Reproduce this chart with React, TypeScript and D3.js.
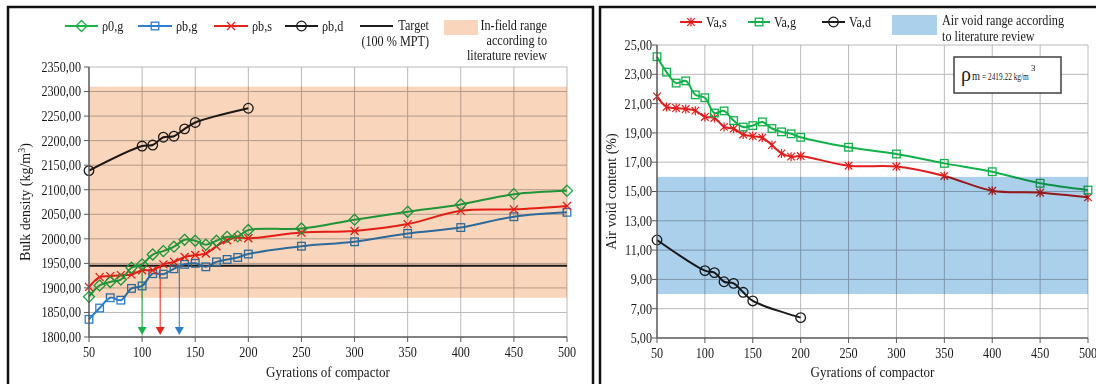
import React from 'react';
import * as d3 from 'd3';

// ---- Bulk density chart data (kg/m3) ----
const gyrations = [50, 60, 70, 80, 90, 100, 110, 120, 130, 140, 150, 160, 170, 180, 190, 200, 250, 300, 350, 400, 450, 500];
const rho0g = [1882, 1905, 1912, 1917, 1941, 1948, 1968, 1975, 1984, 1998, 1996, 1988, 1996, 2004, 2005, 2018, 2021, 2039, 2055, 2070, 2091, 2098];
const rhobg = [1836, 1859, 1880, 1875, 1899, 1904, 1929, 1928, 1939, 1948, 1950, 1943, 1953, 1958, 1962, 1969, 1985, 1994, 2011, 2023, 2045, 2054];
const rhobs = [1902, 1922, 1924, 1926, 1927, 1936, 1936, 1948, 1953, 1963, 1967, 1970, 1985, 1997, 2003, 2001, 2013, 2016, 2030, 2057, 2060, 2067];
const gyrationsDry = [50, 100, 110, 120, 130, 140, 150, 200];
const rhobd = [2139, 2189, 2191, 2207, 2209, 2224, 2237, 2266];
const targetDensity = 1945;
const infieldRange = [1880, 2310];
const arrowGyrations = [100, 117, 135];
const densityTicks = [1800, 1850, 1900, 1950, 2000, 2050, 2100, 2150, 2200, 2250, 2300, 2350];
const gyrationTicks = [50, 100, 150, 200, 250, 300, 350, 400, 450, 500];

// ---- Air void chart data (%) ----
const vas = [21.49, 20.77, 20.7, 20.63, 20.52, 20.09, 20.02, 19.41, 19.28, 18.89, 18.78, 18.67, 18.17, 17.6, 17.38, 17.42, 16.76, 16.7, 16.06, 15.05, 14.92, 14.6];
const vag = [24.2, 23.15, 22.4, 22.55, 21.6, 21.4, 20.36, 20.5, 19.84, 19.4, 19.5, 19.75, 19.3, 19.07, 18.94, 18.7, 18.02, 17.56, 16.92, 16.35, 15.56, 15.1];
const vad = [11.69, 9.6, 9.46, 8.84, 8.73, 8.12, 7.53, 6.39];
const voidRange = [8, 16];
const voidTicks = [5, 7, 9, 11, 13, 15, 17, 19, 21, 23, 25];
const rhoM = '2419.22';

const GREEN = '#1fb24a';
const BLUE = '#2e7fd0';
const RED = '#e8231c';
const DARK = '#1c1c1c';
const RED_R = '#e21d1d';
const GREEN_R = '#12b24b';
const ORANGE = '#f9d5bc';
const LIGHTBLUE = '#abd0ec';
const GRID = '#b8b8b8';
const AXIS = '#595959';
const SX = 0.87;
const FONT = '"Liberation Serif", "Times New Roman", serif';

const fmt = (v: number) => d3.format('.2f')(v).replace('.', ',');

type TxtProps = { x: number; y: number; size?: number; anchor?: string; sx?: number; children: React.ReactNode };
const Txt = ({ x, y, size = 14, anchor = 'start', sx = SX, children }: TxtProps) => (
  <text transform={`translate(${x},${y}) scale(${sx},1)`} fontSize={size} textAnchor={anchor as any} dy="0.35em" fill="#1a1a1a">
    {children}
  </text>
);

type MProps = { x: number; y: number; color: string };
const Diamond = ({ x, y, color }: MProps) => (
  <path d={`M${x},${y - 5.5}L${x + 5.5},${y}L${x},${y + 5.5}L${x - 5.5},${y}Z`} fill="none" stroke={color} strokeWidth={1.3} />
);
const Square = ({ x, y, color }: MProps) => (
  <rect x={x - 3.8} y={y - 3.8} width={7.6} height={7.6} fill="none" stroke={color} strokeWidth={1.3} />
);
const Cross = ({ x, y, color }: MProps) => (
  <path d={`M${x - 4},${y - 4}L${x + 4},${y + 4}M${x - 4},${y + 4}L${x + 4},${y - 4}`} stroke={color} strokeWidth={1.3} />
);
const Star = ({ x, y, color }: MProps) => (
  <path d={`M${x - 3.8},${y - 3.8}L${x + 3.8},${y + 3.8}M${x - 3.8},${y + 3.8}L${x + 3.8},${y - 3.8}M${x},${y - 4.5}L${x},${y + 4.5}`} stroke={color} strokeWidth={1.2} />
);
const Circle = ({ x, y, color }: MProps) => (
  <circle cx={x} cy={y} r={4.8} fill="none" stroke={color} strokeWidth={1.3} />
);

function Series({ xs, ys, xScale, yScale, color, Marker, width = 2 }: any) {
  const pts: [number, number][] = xs.map((g: number, i: number) => [xScale(g), yScale(ys[i])]);
  const line = d3.line().curve(d3.curveCatmullRom.alpha(0.5));
  return (
    <g>
      <path d={line(pts) || ''} fill="none" stroke={color} strokeWidth={width} />
      {pts.map(([px, py], i) => (
        <Marker key={i} x={px} y={py} color={color} />
      ))}
    </g>
  );
}

function LegendItem({ x1, x2, y, color, Marker, label }: any) {
  return (
    <g>
      <line x1={x1} x2={x2} y1={y} y2={y} stroke={color} strokeWidth={2} />
      {Marker && <Marker x={(x1 + x2) / 2} y={y} color={color} />}
      <Txt x={x2 + 4} y={y}>{label}</Txt>
    </g>
  );
}

function DensityChart() {
  const x = d3.scaleLinear().domain([50, 500]).range([89, 567]);
  const y = d3.scaleLinear().domain([1800, 2350]).range([337, 67]);
  const [x0, x1] = x.range();
  const yBottom = y(1800);
  const yTarget = y(targetDensity);
  const arrowColors = [GREEN, RED, BLUE];
  return (
    <g>
      {/* grid */}
      {densityTicks.slice(1).map((t) => (
        <line key={t} x1={x0} x2={x1} y1={y(t)} y2={y(t)} stroke={GRID} strokeWidth={1} />
      ))}
      {gyrationTicks.slice(1).map((t) => (
        <line key={t} x1={x(t)} x2={x(t)} y1={y(2350)} y2={yBottom} stroke={GRID} strokeWidth={1} />
      ))}
      {/* target */}
      <line x1={x0} x2={x1} y1={yTarget} y2={yTarget} stroke={DARK} strokeWidth={2} />
      {/* arrows marking where each series reaches the target */}
      {arrowGyrations.map((g, i) => (
        <g key={g}>
          <line x1={x(g)} x2={x(g)} y1={yTarget} y2={yBottom - 9} stroke={arrowColors[i]} strokeWidth={1} />
          <path d={`M${x(g) - 4.5},${yBottom - 10}L${x(g) + 4.5},${yBottom - 10}L${x(g)},${yBottom - 2}Z`} fill={arrowColors[i]} />
        </g>
      ))}
      <Series xs={gyrationsDry} ys={rhobd} xScale={x} yScale={y} color={DARK} Marker={Circle} />
      <Series xs={gyrations} ys={rhobg} xScale={x} yScale={y} color={BLUE} Marker={Square} />
      <Series xs={gyrations} ys={rhobs} xScale={x} yScale={y} color={RED} Marker={Cross} />
      <Series xs={gyrations} ys={rho0g} xScale={x} yScale={y} color={GREEN} Marker={Diamond} />
      {/* in-field range */}
      <rect x={x0} width={x1 - x0} y={y(infieldRange[1])} height={y(infieldRange[0]) - y(infieldRange[1])} fill={ORANGE} style={{ mixBlendMode: 'multiply' }} />
      {/* axes */}
      <line x1={x0} x2={x0} y1={y(2350)} y2={yBottom} stroke={AXIS} strokeWidth={1.5} />
      <line x1={x0} x2={x1} y1={yBottom} y2={yBottom} stroke={AXIS} strokeWidth={1.5} />
      {densityTicks.map((t) => (
        <g key={t}>
          <line x1={x0 - 5} x2={x0} y1={y(t)} y2={y(t)} stroke={AXIS} strokeWidth={1} />
          <Txt x={x0 - 8} y={y(t)} anchor="end">{fmt(t)}</Txt>
        </g>
      ))}
      {gyrationTicks.map((t) => (
        <g key={t}>
          <line x1={x(t)} x2={x(t)} y1={yBottom} y2={yBottom + 5} stroke={AXIS} strokeWidth={1} />
          <Txt x={x(t)} y={352} anchor="middle">{t}</Txt>
        </g>
      ))}
      <Txt x={(x0 + x1) / 2} y={372} size={15} anchor="middle">Gyrations of compactor</Txt>
      <text transform={`translate(30,${(y(2350) + yBottom) / 2}) rotate(-90)`} fontSize={14} textAnchor="middle" fill="#1a1a1a">
        Bulk density (kg/m<tspan dy={-5} fontSize={10}>3</tspan><tspan dy={5}>)</tspan>
      </text>
      {/* legend */}
      <LegendItem x1={65} x2={98} y={26} color={GREEN} Marker={Diamond} label="ρ0,g" />
      <LegendItem x1={138} x2={172} y={26} color={BLUE} Marker={Square} label="ρb,g" />
      <LegendItem x1={214} x2={248} y={26} color={RED} Marker={Cross} label="ρb,s" />
      <LegendItem x1={285} x2={318} y={26} color={DARK} Marker={Circle} label="ρb,d" />
      <line x1={360} x2={393} y1={26} y2={26} stroke={DARK} strokeWidth={2} />
      <Txt x={429} y={25} anchor="end">Target</Txt>
      <Txt x={429} y={41} anchor="end">(100 % MPT)</Txt>
      <rect x={444} y={20} width={34} height={15} fill={ORANGE} />
      <Txt x={547} y={25} anchor="end">In-field range</Txt>
      <Txt x={547} y={40} anchor="end">according to</Txt>
      <Txt x={547} y={55} anchor="end">literature review</Txt>
    </g>
  );
}

function VoidChart() {
  const x = d3.scaleLinear().domain([50, 500]).range([657, 1088]);
  const y = d3.scaleLinear().domain([5, 25]).range([338, 45]);
  const [x0, x1] = x.range();
  const yBottom = y(5);
  return (
    <g>
      {voidTicks.slice(1).map((t) => (
        <line key={t} x1={x0} x2={x1} y1={y(t)} y2={y(t)} stroke={GRID} strokeWidth={1} />
      ))}
      {gyrationTicks.slice(1).map((t) => (
        <line key={t} x1={x(t)} x2={x(t)} y1={y(25)} y2={yBottom} stroke={GRID} strokeWidth={1} />
      ))}
      <Series xs={gyrationsDry} ys={vad} xScale={x} yScale={y} color={DARK} Marker={Circle} />
      <Series xs={gyrations} ys={vas} xScale={x} yScale={y} color={RED_R} Marker={Star} />
      <Series xs={gyrations} ys={vag} xScale={x} yScale={y} color={GREEN_R} Marker={Square} />
      {/* air void range */}
      <rect x={x0} width={x1 - x0} y={y(voidRange[1])} height={y(voidRange[0]) - y(voidRange[1])} fill={LIGHTBLUE} style={{ mixBlendMode: 'multiply' }} />
      <line x1={x0} x2={x0} y1={y(25)} y2={yBottom} stroke={AXIS} strokeWidth={1.5} />
      <line x1={x0} x2={x1} y1={yBottom} y2={yBottom} stroke={AXIS} strokeWidth={1.5} />
      {voidTicks.map((t) => (
        <g key={t}>
          <line x1={x0 - 5} x2={x0} y1={y(t)} y2={y(t)} stroke={AXIS} strokeWidth={1} />
          <Txt x={x0 - 5} y={y(t)} anchor="end">{fmt(t)}</Txt>
        </g>
      ))}
      {gyrationTicks.map((t) => (
        <g key={t}>
          <line x1={x(t)} x2={x(t)} y1={yBottom} y2={yBottom + 5} stroke={AXIS} strokeWidth={1} />
          <Txt x={x(t)} y={353} anchor="middle">{t}</Txt>
        </g>
      ))}
      <Txt x={(x0 + x1) / 2} y={372} size={15} anchor="middle">Gyrations of compactor</Txt>
      <text transform={`translate(616,${(y(25) + yBottom) / 2}) rotate(-90)`} fontSize={14} textAnchor="middle" fill="#1a1a1a">
        Air void content (%)
      </text>
      {/* density annotation */}
      <rect x={954} y={57} width={107} height={36} fill="#fff" stroke="#404040" strokeWidth={1.5} />
      <text x={961} y={81} fontSize={20} fill="#1a1a1a">ρ</text>
      <Txt x={972} y={76} size={12} sx={0.85}>m</Txt>
      <Txt x={982} y={76} size={10.5} sx={0.7}>{`= ${rhoM} kg/m`}</Txt>
      <text x={1031} y={71} fontSize={9} fill="#1a1a1a">3</text>
      {/* legend */}
      <LegendItem x1={680} x2={702} y={22} color={RED_R} Marker={Star} label="Va,s" />
      <LegendItem x1={748} x2={770} y={22} color={GREEN_R} Marker={Square} label="Va,g" />
      <LegendItem x1={822} x2={845} y={22} color={DARK} Marker={Circle} label="Va,d" />
      <rect x={892} y={15} width={45} height={20} fill={LIGHTBLUE} />
      <Txt x={942} y={20}>Air void range according</Txt>
      <Txt x={942} y={36}>to literature review</Txt>
    </g>
  );
}

export default function App() {
  return (
    <svg
      width={1096}
      height={384}
      style={{ position: 'absolute', left: 0, top: 0, background: '#fff', fontFamily: FONT }}
    >
      <rect x={0} y={0} width={1096} height={384} fill="#fff" />
      <DensityChart />
      <VoidChart />
      {/* panel frames */}
      <rect x={8} y={7} width={585} height={390} fill="none" stroke="#111" strokeWidth={2.5} />
      <rect x={600} y={7} width={520} height={390} fill="none" stroke="#111" strokeWidth={2.5} />
    </svg>
  );
}
